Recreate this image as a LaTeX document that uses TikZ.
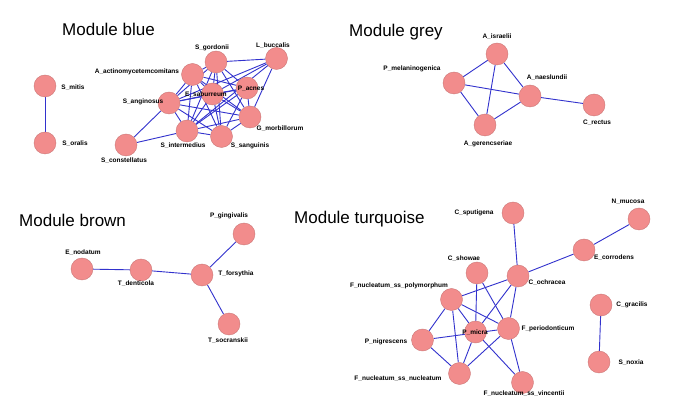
\documentclass[tikz,border=0pt]{standalone}
\usepackage{fontspec}
\setmainfont{Liberation Sans}
\usetikzlibrary{backgrounds}
\definecolor{nodefill}{RGB}{242,140,140}
\definecolor{nodeline}{RGB}{205,120,120}
\definecolor{edgeblue}{RGB}{50,50,205}
\begin{document}
\begin{tikzpicture}[x=1pt,y=-1pt,
 sp/.style={circle,fill=nodefill,draw=nodeline,line width=0.4pt,minimum size=22pt,inner sep=0pt},
 lab/.style={font=\bfseries\fontsize{6.5}{7}\selectfont,inner sep=0pt},
 ttl/.style={font=\fontsize{17}{20}\selectfont,inner sep=0pt,anchor=base west},
 ed/.style={draw=edgeblue,line width=0.9pt}]
\useasboundingbox (0,0) rectangle (675,403);
% titles
\node[ttl] (tblue) at (62,36) {Module blue};
\node[ttl] (tgrey) at (349,37) {Module grey};
\node[ttl] (tbrown) at (19,227) {Module brown};
\node[ttl] (tturq) at (294,224) {Module turquoise};
% blue module nodes
\node[sp] (mitis) at (45,86) {};
\node[sp] (oralis) at (45,143) {};
\node[sp] (constel) at (126,145) {};
\node[sp] (angin) at (169,103) {};
\node[sp] (actino) at (192.5,74.5) {};
\node[sp] (gordonii) at (216,62) {};
\node[sp] (bucc) at (276.5,58.5) {};
\node[sp] (acnes) at (247,88) {};
\node[sp] (sabur) at (212.5,94) {};
\node[sp] (morbi) at (250,117) {};
\node[sp] (interm) at (187,131) {};
\node[sp] (sangu) at (221.5,136.5) {};
% grey module nodes
\node[sp] (isra) at (497,54) {};
\node[sp] (melan) at (454,83) {};
\node[sp] (naes) at (530,96) {};
\node[sp] (gerenc) at (485,125) {};
\node[sp] (rectus) at (594,105) {};
% brown module nodes
\node[sp] (nodat) at (82,269) {};
\node[sp] (dent) at (141,270) {};
\node[sp] (fors) at (202,275) {};
\node[sp] (ging) at (244,234) {};
\node[sp] (socr) at (229,324) {};
% turquoise module nodes
\node[sp] (sput) at (513,213) {};
\node[sp] (muc) at (639,219) {};
\node[sp] (corr) at (584,250) {};
\node[sp] (show) at (477,273) {};
\node[sp] (ochr) at (518,276) {};
\node[sp] (fpoly) at (451.5,299.5) {};
\node[sp] (micra) at (475.5,332) {};
\node[sp] (fper) at (508.5,328.5) {};
\node[sp] (nigr) at (422.5,340) {};
\node[sp] (fnn) at (459.5,373.5) {};
\node[sp] (fnv) at (522.5,382.5) {};
\node[sp] (grac) at (601,305) {};
\node[sp] (noxia) at (599,362) {};
% labels blue
\node[lab] (lmitis) at (73,88) {S\_mitis};
\node[lab] (loralis) at (75,144) {S\_oralis};
\node[lab] (lconstel) at (124,161) {S\_constellatus};
\node[lab] (langin) at (143,102) {S\_anginosus};
\node[lab] (lactino) at (137,72) {A\_actinomycetemcomitans};
\node[lab] (lgordonii) at (212,48) {S\_gordonii};
\node[lab] (lbucc) at (273,46) {L\_buccalis};
\node[lab] (lacnes) at (251,89) {P\_acnes};
\node[lab] (lsabur) at (206,95) {E\_saburreum};
\node[lab] (lmorbi) at (280,129) {G\_morbillorum};
\node[lab] (linterm) at (183,145.5) {S\_intermedius};
\node[lab] (lsangu) at (250,146) {S\_sanguinis};
% labels grey
\node[lab] (lisra) at (497,37) {A\_israelii};
\node[lab] (lmelan) at (412,69) {P\_melaninogenica};
\node[lab] (lnaes) at (547,78) {A\_naeslundii};
\node[lab] (lrectus) at (597,123) {C\_rectus};
\node[lab] (lgerenc) at (488,144) {A\_gerencseriae};
% labels brown
\node[lab] (lnodat) at (83,253) {E\_nodatum};
\node[lab] (ldent) at (136,284) {T\_denticola};
\node[lab] (lfors) at (236,274) {T\_forsythia};
\node[lab] (lging) at (229,216) {P\_gingivalis};
\node[lab] (lsocr) at (228,341) {T\_socranskii};
% labels turquoise
\node[lab] (lsput) at (474,213) {C\_sputigena};
\node[lab] (lmuc) at (628,202) {N\_mucosa};
\node[lab] (lcorr) at (614,258) {E\_corrodens};
\node[lab] (lshow) at (464,259) {C\_showae};
\node[lab] (lochr) at (547,283) {C\_ochracea};
\node[lab] (lfpoly) at (399,286) {F\_nucleatum\_ss\_polymorphum};
\node[lab] (lmicra) at (475,333) {P\_micra};
\node[lab] (lfper) at (548,329) {F\_periodonticum};
\node[lab] (lnigr) at (386,342) {P\_nigrescens};
\node[lab] (lfnn) at (398,379) {F\_nucleatum\_ss\_nucleatum};
\node[lab] (lfnv) at (524,394) {F\_nucleatum\_ss\_vincentii};
\node[lab] (lgrac) at (632,305) {C\_gracilis};
\node[lab] (lnoxia) at (631,363) {S\_noxia};
% edges
\begin{scope}[on background layer]
\fill[white] (0,0) rectangle (675,403);
% blue
\draw[ed] (mitis) -- (oralis);
\draw[ed] (constel) -- (angin);
\draw[ed] (constel) -- (interm);
\foreach \a/\b in {bucc/gordonii,bucc/sabur,bucc/angin,bucc/interm,bucc/morbi,
  gordonii/actino,gordonii/sabur,gordonii/acnes,gordonii/angin,gordonii/interm,gordonii/sangu,gordonii/morbi,
  actino/angin,actino/sabur,actino/acnes,actino/interm,actino/sangu,actino/morbi,
  acnes/sabur,acnes/angin,acnes/interm,acnes/sangu,acnes/morbi,
  sabur/angin,sabur/interm,sabur/sangu,sabur/morbi,
  angin/interm,angin/sangu,angin/morbi,
  interm/sangu,interm/morbi,sangu/morbi}
  {\draw[ed] (\a) -- (\b);}
% grey
\foreach \a/\b in {isra/melan,isra/naes,isra/gerenc,melan/naes,melan/gerenc,gerenc/naes,naes/rectus}
  {\draw[ed] (\a) -- (\b);}
% brown
\foreach \a/\b in {nodat/dent,dent/fors,fors/ging,fors/socr}
  {\draw[ed] (\a) -- (\b);}
% turquoise
\foreach \a/\b in {sput/ochr,muc/corr,corr/ochr,ochr/fpoly,ochr/micra,ochr/fper,
  show/micra,show/fper,fpoly/nigr,fpoly/fnn,fpoly/micra,fpoly/fper,
  nigr/fper,nigr/fnn,micra/fnn,fper/fnn,micra/fnv,fper/fnv,grac/noxia}
  {\draw[ed] (\a) -- (\b);}
\end{scope}
\end{tikzpicture}
\end{document}
